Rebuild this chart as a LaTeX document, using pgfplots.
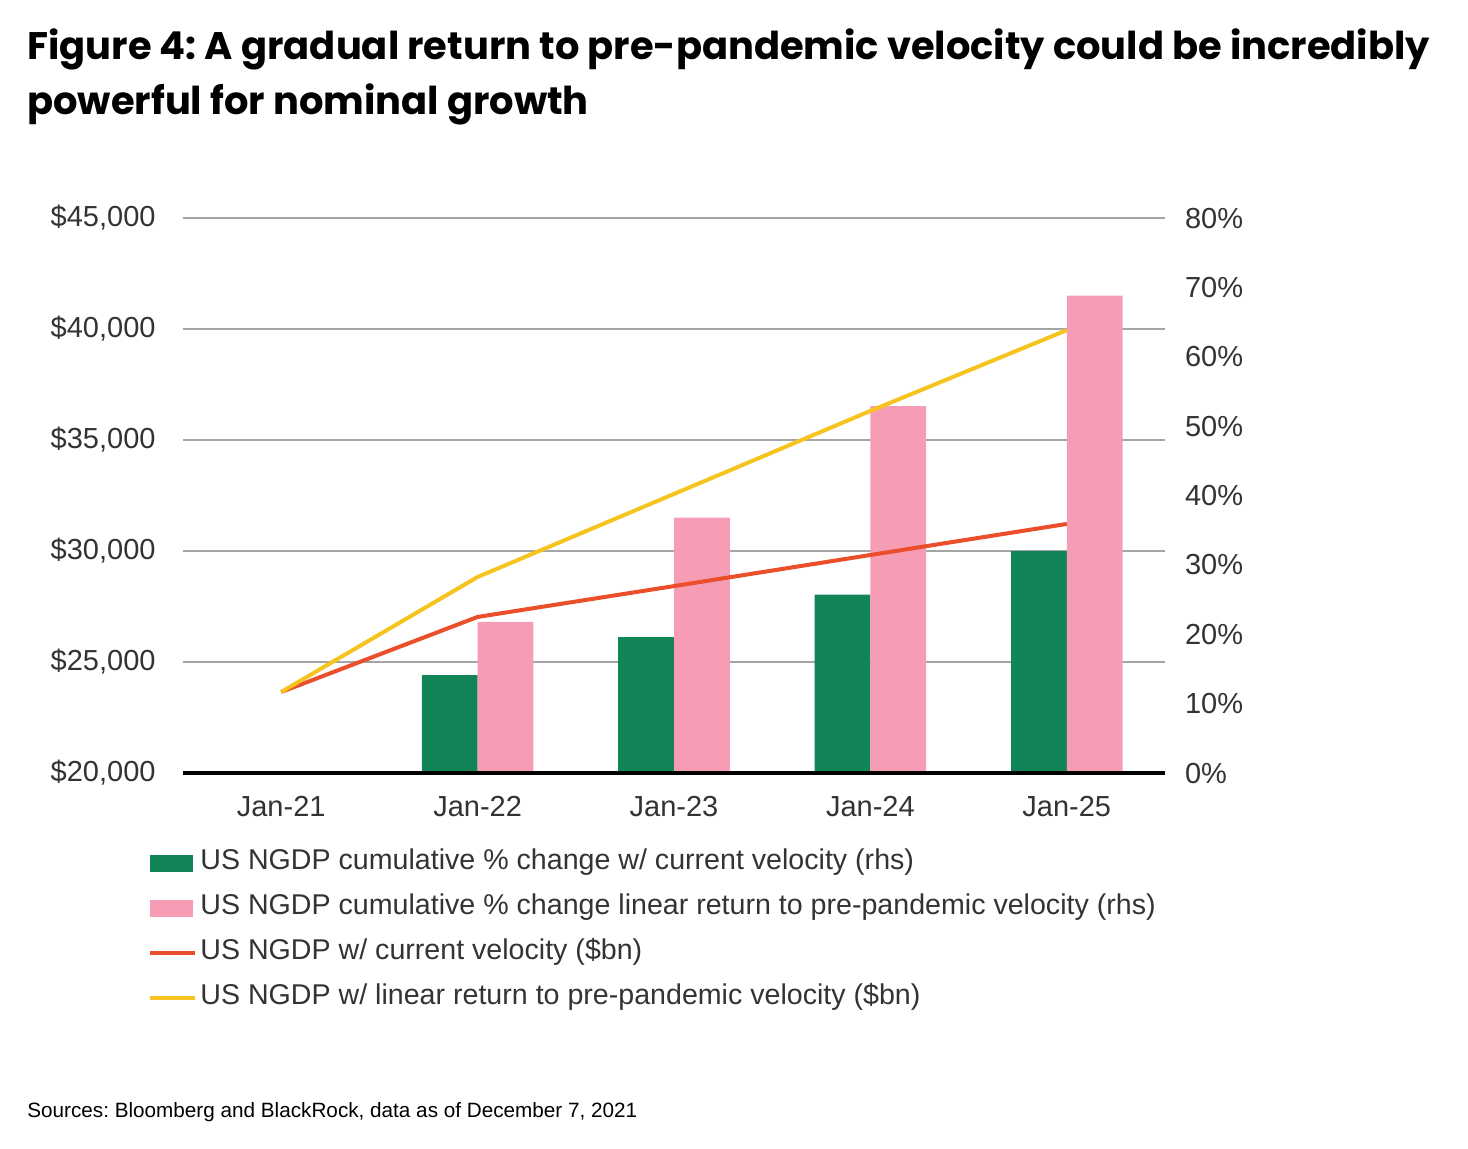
\documentclass[border=0pt]{standalone}
\usepackage{fontspec}
\setmainfont{Liberation Sans}
\newfontfamily\titlefont{Poppins}
\usepackage{pgfplots}
\pgfplotsset{compat=1.18}
\frenchspacing

\definecolor{ngreen}{RGB}{18,133,88}
\definecolor{npink}{RGB}{246,157,181}
\definecolor{nred}{RGB}{234,78,42}
\definecolor{nyellow}{RGB}{246,196,30}
\definecolor{ngrid}{RGB}{165,165,165}
\definecolor{ntext}{RGB}{51,51,51}

\pgfplotsset{
  common/.style={
    at={(91.5pt,-386.5pt)}, anchor=south west,
    scale only axis, width=491pt, height=277.5pt,
    xmin=-0.5, xmax=4.5,
    major tick length=0pt, tick style={draw=none},
    tick label style={font=\fontsize{14.5}{17}\selectfont, text=ntext},
    /pgf/number format/assume math mode=true,
  },
}

\begin{document}
\begin{tikzpicture}
\path (0,0) rectangle (734pt,-574pt);

\node[anchor=base west, inner sep=0, font=\titlefont\bfseries\fontsize{19.2}{22}\selectfont]
  at (13.5pt,-29.5pt) {Figure 4: A gradual return to pre-pandemic velocity could be incredibly};
\node[anchor=base west, inner sep=0, font=\titlefont\bfseries\fontsize{19.2}{22}\selectfont]
  at (13.5pt,-57pt) {powerful for nominal growth};

% bars, right axis (%), gridlines of the $ axis drawn here so they sit behind the bars
\begin{axis}[
  common,
  ymin=0, ymax=80,
  axis x line=none, axis y line*=right,
  y axis line style={draw=none},
  ytick={0,10,...,80},
  yticklabel={\pgfmathprintnumber{\tick}\%},
  yticklabel style={xshift=6.5pt},
  extra y ticks={16,32,48,64,80}, extra y tick labels={},
  extra y tick style={grid=major, grid style={ngrid, line width=1pt}},
  legend style={at={(-0.0417,-0.1265)}, anchor=north west, draw=none, fill=none,
    font=\fontsize{14.3}{17}\selectfont, text=ntext, row sep=7pt,
    nodes={inner sep=1.5pt, text height=9.5pt, text depth=3pt}},
  legend cell align=left,
]
\addplot[ybar, bar width=0.284, bar shift=-0.142, fill=ngreen, draw=none, forget plot]
  coordinates {(1,14.1) (2,19.6) (3,25.7) (4,32.0)};
\addplot[ybar, bar width=0.284, bar shift=0.142, fill=npink, draw=none, forget plot]
  coordinates {(1,21.8) (2,36.8) (3,52.9) (4,68.8)};
\addlegendimage{legend image code/.code={\fill[ngreen] (0pt,-4pt) rectangle (21pt,4pt);}}
\addlegendimage{legend image code/.code={\fill[npink] (0pt,-4pt) rectangle (21pt,4pt);}}
\addlegendimage{legend image code/.code={\draw[nred, line width=2pt] (0pt,0pt) -- (22.5pt,0pt);}}
\addlegendimage{legend image code/.code={\draw[nyellow, line width=2pt] (0pt,0pt) -- (22.5pt,0pt);}}
\legend{US NGDP cumulative \% change w/ current velocity (rhs),
  US NGDP cumulative \% change linear return to pre-pandemic velocity (rhs),
  US NGDP w/ current velocity (\$bn),
  US NGDP w/ linear return to pre-pandemic velocity (\$bn)}
\end{axis}

% lines, left axis ($bn)
\begin{axis}[
  common,
  ymin=20000, ymax=45000,
  axis x line*=bottom, axis y line*=left,
  y axis line style={draw=none},
  x axis line style={black, line width=2pt, -},
  xtick={0,1,2,3,4},
  xticklabels={Jan-21,Jan-22,Jan-23,Jan-24,Jan-25},
  xticklabel style={yshift=-8pt},
  ytick={20000,25000,...,45000},
  scaled y ticks=false,
  yticklabel={\$\pgfmathprintnumber{\tick}},
  yticklabel style={xshift=-10.2pt},
  /pgf/number format/.cd, fixed, 1000 sep={,},
]
\addplot[nred, line width=2pt, line join=round]
  coordinates {(0,23650) (1,27030) (2,28420) (3,29820) (4,31220)};
\addplot[nyellow, line width=2pt, line join=round]
  coordinates {(0,23650) (1,28830) (2,32570) (3,36310) (4,39950)};
\end{axis}

\node[anchor=base west, inner sep=0, font=\fontsize{10.35}{12}\selectfont]
  at (13.5pt,-558.5pt) {Sources: Bloomberg and BlackRock, data as of December 7, 2021};
\end{tikzpicture}
\end{document}
